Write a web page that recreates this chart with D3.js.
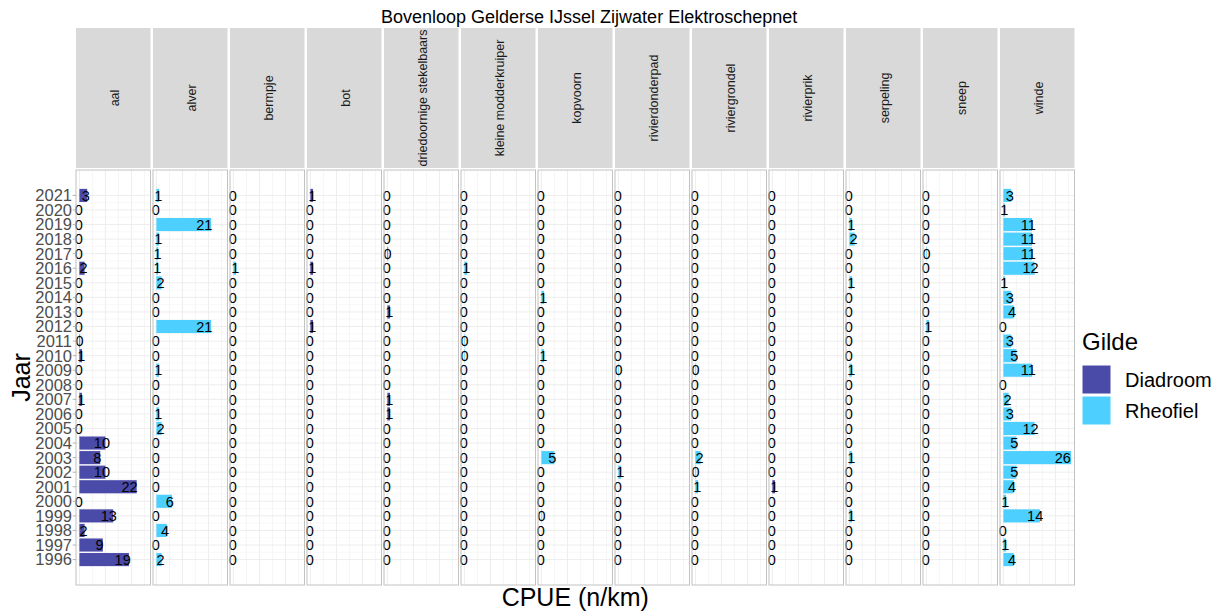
<!DOCTYPE html>
<html>
<head>
<meta charset="utf-8">
<script src="https://cdn.jsdelivr.net/npm/d3@7"></script>
<style>
    body { margin: 0; background: #fff; }
    svg { display: block; font-family: "Liberation Sans", Arial, sans-serif; }
</style>
</head>
<body>
<div id="chart"></div>
<script>
// jaren, van boven naar beneden
const years = [2021, 2020, 2019, 2018, 2017, 2016, 2015, 2014, 2013, 2012, 2011, 2010, 2009,
               2008, 2007, 2006, 2005, 2004, 2003, 2002, 2001, 2000, 1999, 1998, 1997, 1996];

const soorten = ['aal', 'alver', 'bermpje', 'bot', 'driedoornige stekelbaars', 'kleine modderkruiper',
                 'kopvoorn', 'rivierdonderpad', 'riviergrondel', 'rivierprik', 'serpeling', 'sneep', 'winde'];
const soortGilde = ['Diadroom', 'Rheofiel', 'Rheofiel', 'Diadroom', 'Diadroom', 'Rheofiel',
                    'Rheofiel', 'Rheofiel', 'Rheofiel', 'Diadroom', 'Rheofiel', 'Rheofiel', 'Rheofiel'];

const gildes = ['Diadroom', 'Rheofiel'];
const gildeKleuren = ['#4a4aa8', '#4dd0ff'];

// CPUE (n/km) per soort, zelfde volgorde als years
const aal = [3, 0, 0, 0, 0, 2, 0, 0, 0, 0, 0.3, 1, 0, 0, 1, 0, 0, 10, 8, 10, 22, 0, 13, 2, 9, 19];
const alver = [1, 0, 21, 1, 0.7, 0.6, 2, 0, 0, 21, 0, 0, 1, 0, 0, 1, 2, 0, 0, 0, 0, 6, 0, 4, 0, 2];
const bermpje = [0, 0, 0, 0, 0, 1, 0, 0, 0, 0, 0, 0, 0, 0, 0, 0, 0, 0, 0, 0, 0, 0, 0, 0, 0, 0];
const bot = [1, 0, 0, 0, 0, 1, 0, 0, 0, 1, 0, 0, 0, 0, 0, 0, 0, 0, 0, 0, 0, 0, 0, 0, 0, 0];
const driedoornig = [0, 0, 0, 0, 0.3, 0, 0, 0, 1, 0, 0, 0, 0, 0, 1, 1, 0, 0, 0, 0, 0, 0, 0, 0, 0, 0];
const modderkruiper = [0, 0, 0, 0, 0, 1, 0, 0, 0, 0, 0.3, 0.3, 0, 0, 0, 0, 0, 0, 0, 0, 0, 0, 0, 0, 0, 0];
const kopvoorn = [0, 0, 0, 0, 0, 0, 0, 1, 0, 0, 0, 1, 0, 0, 0, 0, 0, 0, 5, 0, 0, 0, 0.3, 0, 0, 0];
const rivierdonderpad = [0, 0, 0, 0, 0, 0, 0, 0, 0, 0, 0, 0, 0.3, 0, 0, 0, 0, 0, 0, 1, 0, 0, 0, 0, 0, 0];
const riviergrondel = [0, 0, 0, 0, 0, 0, 0, 0, 0, 0, 0, 0, 0.3, 0, 0, 0, 0, 0, 2, 0.3, 1, 0, 0, 0, 0, 0];
const rivierprik = [0, 0, 0, 0, 0, 0, 0, 0, 0, 0, 0, 0, 0, 0, 0, 0, 0, 0, 0, 0, 1, 0, 0, 0, 0, 0];
const serpeling = [0, 0, 1, 2, 0, 0, 1, 0, 0, 0, 0, 0, 1, 0, 0, 0, 0, 0, 1, 0, 0, 0, 1, 0, 0, 0];
const sneep = [0, 0, 0, 0, 0.3, 0, 0, 0, 0, 1, 0, 0, 0, 0, 0, 0, 0, 0, 0, 0, 0, 0, 0, 0, 0, 0];
const winde = [3, 0.6, 11, 11, 11, 12, 0.6, 3, 4, 0, 3, 5, 11, 0, 2, 3, 12, 5, 26, 5, 4, 1, 14, 0, 1, 4];

const cpue = [aal, alver, bermpje, bot, driedoornig, modderkruiper, kopvoorn,
              rivierdonderpad, riviergrondel, rivierprik, serpeling, sneep, winde];

const width = 1223, height = 612;
const panelLeft = 76, panelStep = 77, panelW = 74.5;
const stripTop = 28, stripBottom = 168;
const panelTop = 170, panelBottom = 585;

const rows = soorten.map((soort, i) => ({
    soort: soort,
    gilde: soortGilde[i],
    values: years.map((y, j) => ({ year: y, value: cpue[i][j] }))
}));

const svg = d3.select('#chart').append('svg')
    .attr('width', width)
    .attr('height', height);

const color = d3.scaleOrdinal().domain(gildes).range(gildeKleuren);

// gedeelde x-schaal (5% uitbreiding)
const xMax = d3.max(cpue.flat());
const xPad = xMax * 0.05;
const x = d3.scaleLinear().domain([-xPad, xMax + xPad]).range([0, panelW]);

// continue y-schaal, balk 0.9 breed, 5% uitbreiding
const yLo = d3.min(years) - 0.45, yHi = d3.max(years) + 0.45;
const yPad = (yHi - yLo) * 0.05;
const y = d3.scaleLinear().domain([yLo - yPad, yHi + yPad]).range([panelBottom, panelTop]);
const barH = y(0) - y(0.9);

const halfYears = years.slice(1).map((yr) => yr + 0.5);

svg.append('text')
    .attr('x', 381)
    .attr('y', 23)
    .attr('font-size', 18)
    .attr('fill', '#000')
    .text('Bovenloop Gelderse IJssel Zijwater Elektroschepnet');

const facet = svg.selectAll('g.facet')
    .data(rows)
    .enter().append('g')
    .attr('class', 'facet')
    .attr('transform', (d, i) => `translate(${panelLeft + i * panelStep},0)`);

// strips
facet.append('rect')
    .attr('x', 0)
    .attr('y', stripTop)
    .attr('width', panelW)
    .attr('height', stripBottom - stripTop)
    .attr('fill', '#d9d9d9');

facet.append('text')
    .attr('transform', `translate(${panelW / 2 + 6},${(stripTop + stripBottom) / 2}) rotate(-90)`)
    .attr('text-anchor', 'middle')
    .attr('font-size', 12.5)
    .attr('fill', '#1a1a1a')
    .text(d => d.soort);

// panel achtergrond
facet.append('rect')
    .attr('x', 0)
    .attr('y', panelTop)
    .attr('width', panelW)
    .attr('height', panelBottom - panelTop)
    .attr('fill', '#fff');

// minor grid
facet.selectAll('line.hminor')
    .data(halfYears)
    .enter().append('line')
    .attr('x1', 0).attr('x2', panelW)
    .attr('y1', d => y(d)).attr('y2', d => y(d))
    .attr('stroke', '#f4f4f4')
    .attr('stroke-width', 0.6);

facet.selectAll('line.vminor')
    .data([5, 15, 25].filter(v => v < xMax + xPad))
    .enter().append('line')
    .attr('x1', d => x(d)).attr('x2', d => x(d))
    .attr('y1', panelTop).attr('y2', panelBottom)
    .attr('stroke', '#f2f2f2')
    .attr('stroke-width', 0.7);

// major grid
facet.selectAll('line.hmajor')
    .data(years)
    .enter().append('line')
    .attr('x1', 0).attr('x2', panelW)
    .attr('y1', d => y(d)).attr('y2', d => y(d))
    .attr('stroke', '#ebebeb')
    .attr('stroke-width', 0.9);

facet.selectAll('line.vmajor')
    .data([0, 10, 20])
    .enter().append('line')
    .attr('x1', d => x(d)).attr('x2', d => x(d))
    .attr('y1', panelTop).attr('y2', panelBottom)
    .attr('stroke', '#ebebeb')
    .attr('stroke-width', 0.9);

// balken
facet.each(function(d) {
    const g = d3.select(this);
    g.selectAll('rect.bar')
        .data(d.values)
        .enter().append('rect')
        .attr('class', 'bar')
        .attr('x', x(0))
        .attr('y', v => y(v.year) - barH / 2)
        .attr('width', v => x(v.value) - x(0))
        .attr('height', barH)
        .attr('fill', color(d.gilde));

    g.selectAll('text.lab')
        .data(d.values)
        .enter().append('text')
        .attr('class', 'lab')
        .attr('x', v => x(v.value * 0.885) - 0.5)
        .attr('y', v => y(v.year) + 5.2)
        .attr('text-anchor', 'middle')
        .attr('font-size', 14.5)
        .attr('fill', '#000')
        .text(v => Math.round(v.value));
});

// panelrand
facet.append('rect')
    .attr('x', 0)
    .attr('y', panelTop)
    .attr('width', panelW)
    .attr('height', panelBottom - panelTop)
    .attr('fill', 'none')
    .attr('stroke', '#c2c2c2')
    .attr('stroke-width', 1);

// y-as
const yAxis = svg.append('g');
yAxis.selectAll('text')
    .data(years)
    .enter().append('text')
    .attr('x', 72)
    .attr('y', d => y(d) + 5.9)
    .attr('text-anchor', 'end')
    .attr('font-size', 16.5)
    .attr('fill', '#4d4d4d')
    .text(d => d);

yAxis.selectAll('line')
    .data(years)
    .enter().append('line')
    .attr('x1', 72.7).attr('x2', panelLeft)
    .attr('y1', d => y(d)).attr('y2', d => y(d))
    .attr('stroke', '#b3b3b3')
    .attr('stroke-width', 1);

// as-titels
svg.append('text')
    .attr('transform', `translate(30,${(panelTop + panelBottom) / 2}) rotate(-90)`)
    .attr('text-anchor', 'middle')
    .attr('font-size', 25)
    .attr('fill', '#000')
    .text('Jaar');

svg.append('text')
    .attr('x', panelLeft + (12 * panelStep + panelW) / 2)
    .attr('y', 606)
    .attr('text-anchor', 'middle')
    .attr('font-size', 25)
    .attr('fill', '#000')
    .text('CPUE (n/km)');

// legenda
const legend = svg.append('g').attr('transform', 'translate(1082,0)');
legend.append('text')
    .attr('x', 0)
    .attr('y', 350)
    .attr('font-size', 24)
    .attr('fill', '#000')
    .text('Gilde');

const item = legend.selectAll('g.item')
    .data(gildes)
    .enter().append('g')
    .attr('class', 'item')
    .attr('transform', (d, i) => `translate(0,${365 + i * 31})`);

item.append('rect')
    .attr('width', 29)
    .attr('height', 29)
    .attr('fill', d => color(d))
    .attr('stroke', '#fff')
    .attr('stroke-width', 1);

item.append('text')
    .attr('x', 43)
    .attr('y', 22)
    .attr('font-size', 20)
    .attr('fill', '#000')
    .text(d => d);
</script>
</body>
</html>
